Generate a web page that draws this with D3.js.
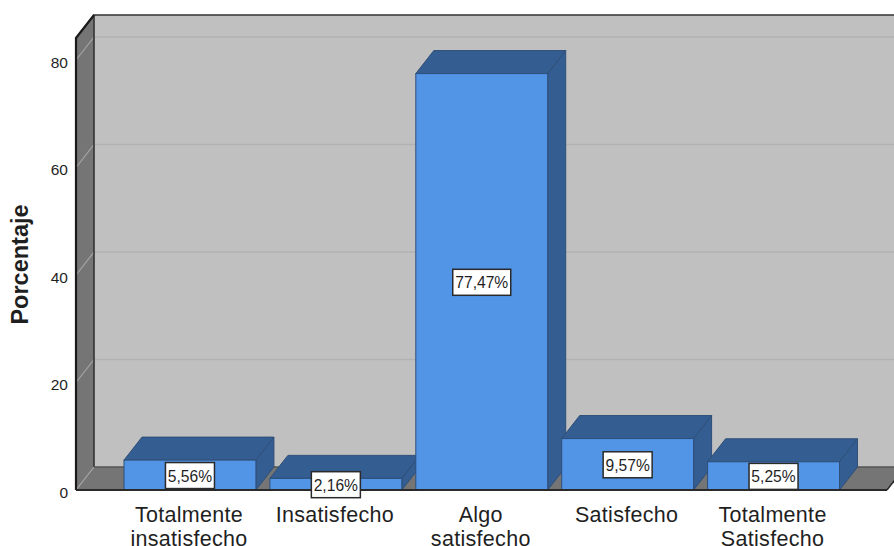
<!DOCTYPE html>
<html>
<head>
<meta charset="utf-8">
<script src="https://cdn.jsdelivr.net/npm/d3@7"></script>
<style>
  html, body { margin: 0; padding: 0; background: #fff; overflow: hidden; }
  text { font-family: "Liberation Sans", Arial, sans-serif; fill: #1f1f1f; }
</style>
</head>
<body>
<div id="chartContainer"></div>
<script>
//chart values
var categories = ["Totalmente insatisfecho", "Insatisfecho", "Algo satisfecho", "Satisfecho", "Totalmente Satisfecho"];
var categoryLines = [["Totalmente", "insatisfecho"], ["Insatisfecho"], ["Algo", "satisfecho"], ["Satisfecho"], ["Totalmente", "Satisfecho"]];
var percentages = [5.56, 2.16, 77.47, 9.57, 5.25];
var percentLabels = ["5,56%", "2,16%", "77,47%", "9,57%", "5,25%"];
var yTicks = [0, 20, 40, 60, 80];

var width = 894, height = 546;

//depth offset of the 3d box
var dx = 18, dy = -23;
var left = 76, right = 887, bottom = 490;
var wallTop = 15;

var svg = d3.select("#chartContainer").append("svg")
  .attr("width", width).attr("height", height)
  .style("display", "block");

var x = d3.scaleBand().domain(categories).range([124, 839.5]).paddingInner(14 / 146).paddingOuter(0);
var y = d3.scaleLinear().domain([0, 80]).range([bottom, 60]);

//polygon helper
function poly(points, fill, stroke, sw) {
  return svg.append("polygon")
    .attr("points", points.map(function (p) { return p.join(","); }).join(" "))
    .attr("fill", fill).attr("stroke", stroke || "none").attr("stroke-width", sw || 0);
}

//the original font is a bit narrower than Liberation, so squeeze the text sideways
function squeezed(px, py, sx, size, str) {
  return svg.append("text")
    .attr("transform", "translate(" + px + "," + py + ") scale(" + sx + ",1)")
    .attr("text-anchor", "middle")
    .style("font-size", size + "px")
    .text(str);
}

//back wall, side wall and floor
poly([[left + dx, wallTop], [width + 4, wallTop], [width + 4, bottom + dy], [left + dx, bottom + dy]], "#c0c0c0");
poly([[left, wallTop - dy], [left + dx, wallTop], [left + dx, bottom + dy], [left, bottom]], "#757575");
poly([[left, bottom], [left + dx, bottom + dy], [right + dx, bottom + dy], [right, bottom]], "#757575");

//gridlines, across the back wall and down the side wall
var grid = svg.append("g");
yTicks.slice(1).forEach(function (t) {
  grid.append("line").attr("x1", left + dx).attr("x2", width).attr("y1", y(t) + dy).attr("y2", y(t) + dy)
    .attr("stroke", "#b2b2b2").attr("stroke-width", 1.5);
});
yTicks.forEach(function (t) {
  grid.append("line").attr("x1", left).attr("x2", left + dx).attr("y1", y(t)).attr("y2", y(t) + dy)
    .attr("stroke", "#a6a6a6").attr("stroke-width", 1.2);
});

//frame of the walls
svg.append("path")
  .attr("d", d3.line()([[left + dx, bottom + dy], [left + dx, wallTop], [width + 4, wallTop]]))
  .attr("fill", "none").attr("stroke", "#333").attr("stroke-width", 1.6);
svg.append("path")
  .attr("d", d3.line()([[left + dx, bottom + dy], [width + 4, bottom + dy]]))
  .attr("fill", "none").attr("stroke", "#555").attr("stroke-width", 1.5);
svg.append("path")
  .attr("d", d3.line()([[left, bottom], [left, wallTop - dy], [left + dx, wallTop]]))
  .attr("fill", "none").attr("stroke", "#1a1a1a").attr("stroke-width", 2.2);

//bars
var barEdge = "#2f4f78";
categories.forEach(function (c, i) {
  var x0 = x(c), x1 = x0 + x.bandwidth(), yv = y(percentages[i]);
  poly([[x0, yv], [x0 + dx, yv + dy], [x1 + dx, yv + dy], [x1, yv]], "#345d92", barEdge, 1);
  poly([[x1, yv], [x1 + dx, yv + dy], [x1 + dx, bottom + dy], [x1, bottom]], "#345d92", barEdge, 1);
  svg.append("rect").attr("x", x0).attr("y", yv).attr("width", x.bandwidth()).attr("height", bottom - yv)
    .attr("fill", "#5294e6").attr("stroke", barEdge).attr("stroke-width", 1);
});

//front baseline
svg.append("line").attr("x1", left).attr("x2", right).attr("y1", bottom).attr("y2", bottom)
  .attr("stroke", "#2a2a2a").attr("stroke-width", 2);
svg.append("line").attr("x1", right).attr("x2", right + dx).attr("y1", bottom).attr("y2", bottom + dy)
  .attr("stroke", "#2a2a2a").attr("stroke-width", 1.5);

//value labels in their little boxes
categories.forEach(function (c, i) {
  var cx = x(c) + x.bandwidth() / 2;
  var cy = (y(percentages[i]) + bottom) / 2 + 0.5;
  var w = percentages[i] > 10 ? 58 : 49;
  svg.append("rect").attr("x", cx - w / 2).attr("y", cy - 13).attr("width", w).attr("height", 26)
    .attr("fill", "#fff").attr("stroke", "#2a2a2a").attr("stroke-width", 1.5);
  squeezed(cx, cy + 6, 0.92, 17, percentLabels[i]);
});

//y axis
var yAxis = svg.append("g").attr("transform", "translate(" + left + ",0)")
  .call(d3.axisLeft(y).tickValues(yTicks).tickSize(0).tickPadding(8).tickFormat(d3.format("d")));
yAxis.select(".domain").remove();
yAxis.selectAll("text")
  .attr("dy", "0.48em")
  .style("font-size", "15.5px").style("font-family", '"Liberation Sans", Arial, sans-serif').attr("fill", "#1f1f1f");

svg.append("text").attr("transform", "translate(28,264.5) rotate(-90)")
  .attr("text-anchor", "middle").style("font-size", "23.5px").style("font-weight", "bold")
  .text("Porcentaje");

//x labels, wrapped on two lines
categories.forEach(function (c, i) {
  var cx = x(c) + x.bandwidth() / 2 - 1;
  categoryLines[i].forEach(function (line, j) {
    squeezed(cx, 521.5 + j * 24, 1, 21.5, line).style("letter-spacing", "0.3px");
  });
});
</script>
</body>
</html>
